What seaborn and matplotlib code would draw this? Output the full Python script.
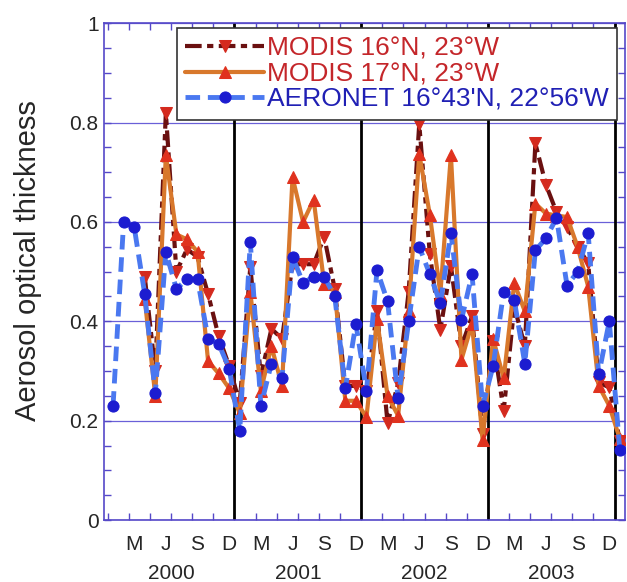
import matplotlib
matplotlib.use('Agg')
import matplotlib.pyplot as plt
import numpy as np
import pandas as pd
import seaborn as sns
from matplotlib.ticker import MultipleLocator, FixedLocator

# month index: 1 = Jan 2000 (mid-month), 49 = Jan 2004
months_aeronet = list(range(1, 50))
months_modis = list(range(4, 50))

aeronet = [0.23, 0.60, 0.59, 0.455, 0.255, 0.54, 0.465, 0.485, 0.485, 0.365, 0.355, 0.305,
           0.18, 0.56, 0.23, 0.315, 0.285, 0.53, 0.477, 0.49, 0.49, 0.45, 0.265, 0.395,
           0.26, 0.503, 0.44, 0.245, 0.40, 0.55, 0.495, 0.436, 0.578, 0.403, 0.495, 0.23,
           0.31, 0.46, 0.443, 0.315, 0.543, 0.567, 0.608, 0.472, 0.50, 0.577, 0.293, 0.40,
           0.14]

modis_16n = [0.49, 0.30, 0.82, 0.50, 0.545, 0.53, 0.455, 0.37, 0.31,
             0.235, 0.51, 0.29, 0.385, 0.365, 0.515, 0.515, 0.515, 0.57, 0.465, 0.27, 0.27,
             0.26, 0.42, 0.195, 0.275, 0.46, 0.797, 0.536, 0.383, 0.512, 0.35, 0.41, 0.173,
             0.36, 0.22, 0.43, 0.35, 0.758, 0.675, 0.62, 0.59, 0.55, 0.517, 0.277, 0.267,
             0.16]

modis_17n = [0.445, 0.25, 0.735, 0.575, 0.565, 0.54, 0.32, 0.295, 0.265,
             0.215, 0.46, 0.26, 0.35, 0.27, 0.69, 0.60, 0.645, 0.475, 0.46, 0.24, 0.24,
             0.207, 0.405, 0.25, 0.21, 0.42, 0.737, 0.615, 0.456, 0.735, 0.323, 0.395, 0.162,
             0.365, 0.285, 0.477, 0.42, 0.637, 0.617, 0.613, 0.61, 0.55, 0.47, 0.27, 0.23,
             0.163]

month_ticks = [3, 6, 9, 12, 15, 18, 21, 24, 27, 30, 33, 36, 39, 42, 45, 48]
month_labels = ['M', 'J', 'S', 'D'] * 4
years = ['2000', '2001', '2002', '2003']
year_centers = [6.5, 18.5, 30.5, 42.5]
year_bounds = [12.5, 24.5, 36.5, 48.5]

sns.set_style('white')
plt.rcParams['font.family'] = ['Liberation Sans', 'DejaVu Sans']

frame_col = '#5548c8'

fig = plt.figure(figsize=(6.27, 5.82), dpi=100)
ax = fig.add_axes([0.166, 0.1065, 0.831, 0.8535])

df16 = pd.DataFrame({'month': months_modis, 'aot': modis_16n})
df17 = pd.DataFrame({'month': months_modis, 'aot': modis_17n})
dfa = pd.DataFrame({'month': months_aeronet, 'aot': aeronet})

for b in year_bounds:
    ax.axvline(b, color='black', lw=2, zorder=1.5)

sns.lineplot(data=df16, x='month', y='aot', ax=ax, color='#6a1010', lw=3,
             linestyle=(0, (4, 1.3, 1.5, 1.3)), marker='v', ms=8,
             markerfacecolor='#d42a1e', markeredgecolor='#d42a1e',
             label='MODIS 16°N, 23°W', zorder=3)
sns.lineplot(data=df17, x='month', y='aot', ax=ax, color='#d8782c', lw=3,
             linestyle='-', marker='^', ms=8,
             markerfacecolor='#e0321e', markeredgecolor='#e0321e',
             label='MODIS 17°N, 23°W', zorder=3.5)
sns.lineplot(data=dfa, x='month', y='aot', ax=ax, color='#4a78f0', lw=3.5,
             linestyle=(0, (3, 1.6)), marker='o', ms=8,
             markerfacecolor='#1c1cd0', markeredgecolor='#1c1cd0',
             label="AERONET 16°43'N, 22°56'W", zorder=4)

ax.set_xlim(0.15, 49.5)
ax.set_ylim(0, 1)

ax.set_xticks(month_ticks)
ax.set_xticklabels(month_labels)
ax.xaxis.set_minor_locator(FixedLocator(np.arange(0.5, 50, 2)))
ax.tick_params(axis='x', which='major', length=0, pad=11, labelsize=15)
ax.tick_params(axis='x', which='minor', direction='in', length=5, width=1,
               top=True, bottom=True, color=frame_col)

ax.set_yticks([0, 0.2, 0.4, 0.6, 0.8, 1.0])
ax.set_yticklabels(['0', '0.2', '0.4', '0.6', '0.8', '1'])
ax.yaxis.set_minor_locator(MultipleLocator(0.05))
ax.tick_params(axis='y', which='both', direction='in', left=True, right=True,
               length=5, width=1, color=frame_col, labelsize=15, pad=4)

ax.grid(axis='y', which='major', color='#6a60d8', lw=0.9)
for sp in ax.spines.values():
    sp.set_color(frame_col)
    sp.set_linewidth(1.2)

for yr, c in zip(years, year_centers):
    ax.text(c, -0.107, yr, transform=ax.get_xaxis_transform(),
            ha='center', va='center', fontsize=15)

ax.set_xlabel('')
ax.set_ylabel('Aerosol optical thickness', fontsize=21)
ax.yaxis.set_label_coords(-0.119, 0.523)

leg = ax.legend(loc='upper right', bbox_to_anchor=(0.985, 0.99), fontsize=19,
                frameon=True, fancybox=False, framealpha=1, edgecolor='#333333',
                handlelength=3.0, handletextpad=0.1, labelspacing=0.05,
                borderpad=0.32, borderaxespad=0)
leg.get_frame().set_linewidth(1.2)
leg.set_zorder(10)
text_cols = ['#c4262a', '#c4262a', '#2020b4']
for t, c in zip(leg.get_texts(), text_cols):
    t.set_color(c)

fig.savefig('out.png', dpi=100)
